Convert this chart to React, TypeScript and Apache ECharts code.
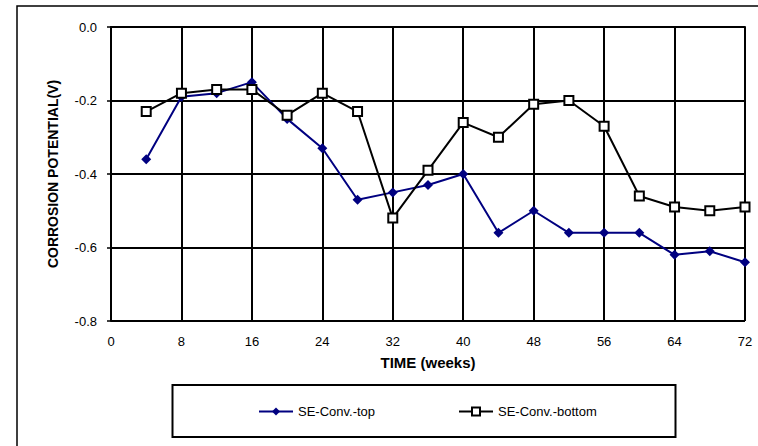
import React, { useEffect, useRef } from "react";
import * as echarts from "echarts";

const weeks = [4, 8, 12, 16, 20, 24, 28, 32, 36, 40, 44, 48, 52, 56, 60, 64, 68, 72];
const topValues = [-0.36, -0.19, -0.18, -0.15, -0.25, -0.33, -0.47, -0.45, -0.43, -0.40, -0.56, -0.50, -0.56, -0.56, -0.56, -0.62, -0.61, -0.64];
const bottomValues = [-0.23, -0.18, -0.17, -0.17, -0.24, -0.18, -0.23, -0.52, -0.39, -0.26, -0.30, -0.21, -0.20, -0.27, -0.46, -0.49, -0.50, -0.49];
const seriesNames = ["SE-Conv.-top", "SE-Conv.-bottom"];
const xTitle = "TIME (weeks)";
const yTitle = "CORROSION POTENTIAL(V)";

export default function App() {
  const ref = useRef<HTMLDivElement>(null);
  useEffect(() => {
    if (!ref.current) return;
    const chart = echarts.init(ref.current, null, { renderer: "svg" });
    const font = "'Liberation Sans', Arial, sans-serif";
    const legendText = { fontFamily: font, fontSize: 13, color: "#000" };
    chart.setOption({
      animation: false,
      backgroundColor: "#fff",
      textStyle: { fontFamily: font },
      grid: { left: 111, top: 27, width: 634, height: 294, containLabel: false },
      xAxis: {
        type: "value",
        min: 0,
        max: 72,
        interval: 8,
        name: xTitle,
        nameLocation: "middle",
        nameGap: 34,
        nameTextStyle: { fontFamily: font, fontSize: 15, fontWeight: "bold", color: "#000" },
        axisLine: { lineStyle: { color: "#000", width: 2 } },
        axisTick: { show: true, length: 4, lineStyle: { color: "#000", width: 1.5 } },
        axisLabel: { color: "#000", fontSize: 13, fontFamily: font, margin: 14 },
        splitLine: { show: true, lineStyle: { color: "#000", width: 2 } },
      },
      yAxis: {
        type: "value",
        min: -0.8,
        max: 0,
        interval: 0.2,
        name: yTitle,
        nameLocation: "middle",
        nameRotate: 90,
        nameGap: 51,
        nameTextStyle: { fontFamily: font, fontSize: 14, fontWeight: "bold", color: "#000" },
        axisLine: { show: true, lineStyle: { color: "#000", width: 2 } },
        axisTick: { show: true, length: 4, lineStyle: { color: "#000", width: 1.5 } },
        axisLabel: {
          color: "#000",
          fontSize: 13,
          fontFamily: font,
          margin: 14,
          formatter: (v: number) => v.toFixed(1),
        },
        splitLine: { show: true, lineStyle: { color: "#000", width: 2 } },
      },
      legend: [
        {
          data: [seriesNames[0]],
          left: 258,
          top: 405,
          padding: 0,
          itemWidth: 34,
          itemHeight: 10,
          itemGap: 4,
          textStyle: { ...legendText, padding: [0, 0, 0, 0] },
        },
        {
          data: [seriesNames[1]],
          left: 458,
          top: 405,
          padding: 0,
          itemWidth: 34,
          itemHeight: 10,
          itemGap: 4,
          textStyle: { ...legendText, padding: [0, 0, 0, 0] },
        },
      ],
      graphic: [
        {
          type: "rect",
          shape: { x: 17, y: 6, width: 760, height: 460 },
          style: { fill: "none", stroke: "#000", lineWidth: 1.5 },
          silent: true,
          z: -1,
        },
        {
          type: "rect",
          shape: { x: 172.5, y: 385, width: 503, height: 52 },
          style: { fill: "none", stroke: "#000", lineWidth: 2 },
          silent: true,
        },
      ],
      series: [
        {
          name: seriesNames[0],
          type: "line",
          data: weeks.map((w, i) => [w, topValues[i]]),
          symbol: "diamond",
          symbolSize: 10,
          lineStyle: { color: "#000080", width: 2 },
          itemStyle: { color: "#000080", borderColor: "#000080", borderWidth: 0 },
          z: 3,
        },
        {
          name: seriesNames[1],
          type: "line",
          data: weeks.map((w, i) => [w, bottomValues[i]]),
          symbol: "rect",
          symbolSize: 9,
          lineStyle: { color: "#000", width: 2 },
          itemStyle: { color: "#fff", borderColor: "#000", borderWidth: 2 },
          z: 4,
        },
      ],
    });
    return () => chart.dispose();
  }, []);
  return (
    <div
      ref={ref}
      style={{ position: "fixed", left: 0, top: 0, width: 758, height: 446, background: "#fff" }}
    />
  );
}
